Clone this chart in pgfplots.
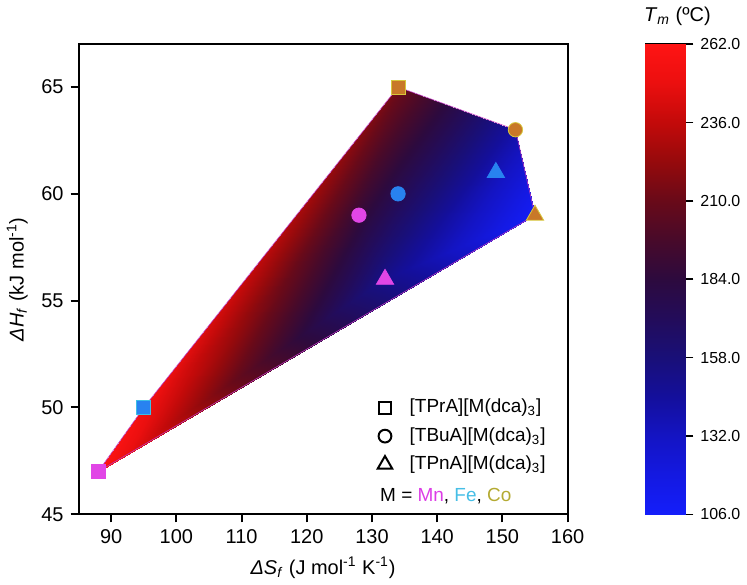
\documentclass[border=0pt]{standalone}
\usepackage{pgfplots}
\pgfplotsset{compat=1.18}
\usepackage{pgfplotstable}
\usepackage{fontspec}
\setmainfont{Liberation Sans}
\definecolor{mnc}{RGB}{225,70,230}
\definecolor{fec}{RGB}{40,130,240}
\definecolor{fee}{RGB}{60,190,230}
\definecolor{coc}{RGB}{200,120,40}
\definecolor{coe}{RGB}{215,200,60}
\definecolor{mnt}{RGB}{220,60,230}
\definecolor{fet}{RGB}{70,190,230}
\definecolor{cot}{RGB}{180,170,50}
\definecolor{hulledge}{RGB}{190,60,190}
\pgfplotsset{
  tmmap/.style={
    colormap={tm}{rgb255=(20,30,250) rgb255=(20,25,225) rgb255=(20,20,195) rgb255=(20,15,155) rgb255=(25,15,120) rgb255=(35,12,90) rgb255=(45,10,62) rgb255=(72,10,42) rgb255=(105,10,25) rgb255=(150,10,12) rgb255=(195,10,10) rgb255=(235,15,15) rgb255=(255,20,20)},
    point meta min=106, point meta max=262,
  },
}
% triangulation of the nine compounds, meta = T_m (degC)
\pgfplotstableread{
x y t
88 47 260.94
95 50 253.17
128 59 187.79
95 50 253.17
134 65 211.92
128 59 187.79
134 65 211.92
134 60 174.61
128 59 187.79
134 65 211.92
152 63 141.32
134 60 174.61
152 63 141.32
149 61 136.25
134 60 174.61
152 63 141.32
155 59 107.50
149 61 136.25
149 61 136.25
155 59 107.50
132 56 151.09
149 61 136.25
132 56 151.09
134 60 174.61
134 60 174.61
132 56 151.09
128 59 187.79
128 59 187.79
132 56 151.09
88 47 260.94
88 47 260.94
132 56 151.09
155 59 107.50
}\hull
\pgfplotstableread{
x y t
0 106 106
1 106 106
1 262 262
0 106 106
1 262 262
0 262 262
}\cbar
\begin{document}
\begin{tikzpicture}
\begin{axis}[
  name=main,
  tmmap,
  scale only axis,
  width=245pt, height=235.5pt,
  xmin=85, xmax=160, ymin=45, ymax=67,
  xtick={90,100,...,160}, ytick={45,50,...,65},
  tick align=outside, major tick length=4pt,
  xtick pos=bottom, ytick pos=left,
  axis line style={line width=1pt},
  every tick/.style={black, line width=1pt},
  tick label style={font=\fontsize{10}{12}\selectfont},
  /pgf/number format/assume math mode=true,
  label style={font=\fontsize{10}{12}\selectfont},
  xlabel={\textit{ΔS}\textsubscript{\textit{f}} (J mol\textsuperscript{-1} K\textsuperscript{-1})},
  ylabel={\textit{ΔH}\textsubscript{\textit{f}} (kJ mol\textsuperscript{-1})},
  legend style={at={(axis cs:128.4,50.8)}, anchor=north west, draw=none, fill=none,
    font=\fontsize{9.5}{11}\selectfont, row sep=1.2pt,
    nodes={inner sep=1pt, text height=8pt, text depth=3pt}},
  legend cell align=left,
  legend image code/.code={\path[draw=none] (0cm,0cm) -- (0.7cm,0cm); \draw[#1] plot coordinates {(0.3cm,0cm)};},
]
\addplot[patch, shader=interp, point meta=\thisrow{t}, forget plot] table[x=x, y=y] {\hull};
\addplot[draw=hulledge, line width=0.3pt, forget plot] coordinates {(88,47) (95,50) (134,65) (152,63) (155,59) (88,47)};
% squares [TPrA]
\addplot[only marks, mark=square*, mark size=3.5pt, draw=mnc, fill=mnc, forget plot] coordinates {(88,47)};
\addplot[only marks, mark=square*, mark size=3.5pt, draw=fee, fill=fec, forget plot] coordinates {(95,50)};
\addplot[only marks, mark=square*, mark size=3.5pt, draw=coe, fill=coc, forget plot] coordinates {(134,65)};
% circles [TBuA]
\addplot[only marks, mark=*, mark size=3.6pt, draw=mnc, fill=mnc, forget plot] coordinates {(128,59)};
\addplot[only marks, mark=*, mark size=3.6pt, draw=fec, fill=fec, forget plot] coordinates {(134,60)};
\addplot[only marks, mark=*, mark size=3.6pt, draw=coe, fill=coc, forget plot] coordinates {(152,63)};
% triangles [TPnA]
\addplot[only marks, mark=triangle*, mark size=5pt, draw=mnc, fill=mnc, forget plot] coordinates {(132,56)};
\addplot[only marks, mark=triangle*, mark size=5pt, draw=fec, fill=fec, forget plot] coordinates {(149,61)};
\addplot[only marks, mark=triangle*, mark size=5pt, draw=coe, fill=coc, forget plot] coordinates {(155,59)};
\addlegendimage{only marks, mark=square, mark size=3pt, black, line width=1pt}
\addlegendentry{[TPrA][M(dca)\textsubscript{3}]}
\addlegendimage{only marks, mark=o, mark size=3.2pt, black, line width=1pt}
\addlegendentry{[TBuA][M(dca)\textsubscript{3}]}
\addlegendimage{only marks, mark=triangle, mark size=4.2pt, black, line width=1pt}
\addlegendentry{[TPnA][M(dca)\textsubscript{3}]}
\node[anchor=west, font=\fontsize{9.5}{11}\selectfont, inner sep=0pt] at (axis cs:131.2,45.85) {M = \textcolor{mnt}{Mn}, \textcolor{fet}{Fe}, \textcolor{cot}{Co}};
\end{axis}
\begin{axis}[
  tmmap,
  at={(main.north east)}, anchor=north west, xshift=39pt,
  scale only axis, width=20pt, height=235.5pt,
  xmin=0, xmax=1, ymin=106, ymax=262,
  xtick=\empty, ytick={106,132,...,262},
  ytick pos=right, yticklabel pos=right,
  tick align=outside, major tick length=4pt,
  every tick/.style={black, line width=0.8pt},
  axis line style={line width=0.9pt},
  yticklabel style={font=\fontsize{8}{10}\selectfont, /pgf/number format/fixed, /pgf/number format/fixed zerofill, /pgf/number format/precision=1},
  /pgf/number format/assume math mode=true,
  title={\textit{T}\textsubscript{\textit{m}} (ºC)},
  title style={font=\fontsize{10}{12}\selectfont, xshift=6pt},
]
\addplot[patch, shader=interp, point meta=\thisrow{t}] table[x=x, y=y] {\cbar};
\end{axis}
\end{tikzpicture}
\end{document}
